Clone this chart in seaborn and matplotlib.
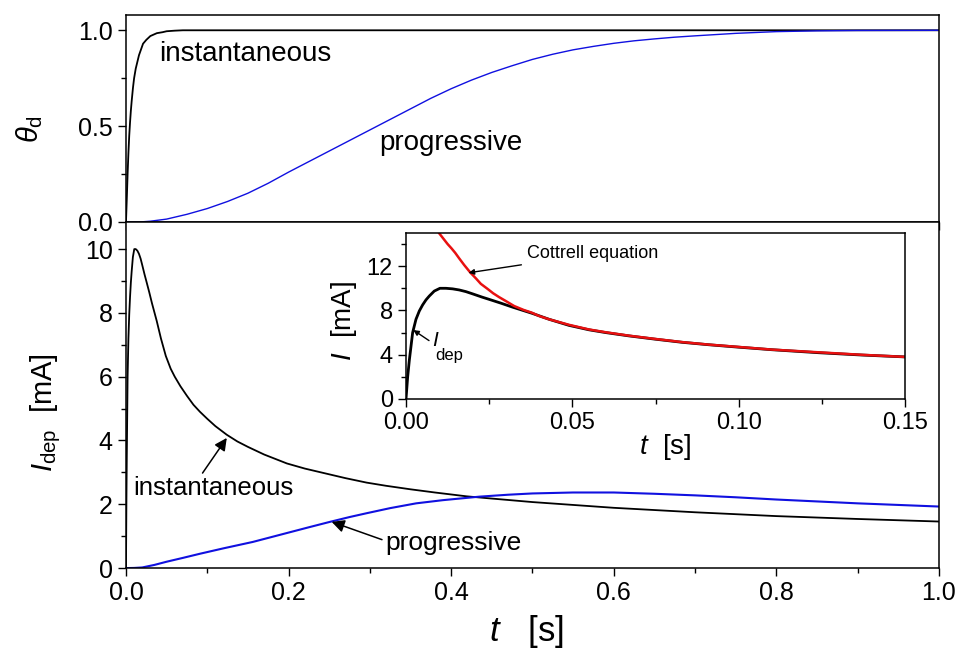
import matplotlib
matplotlib.use("Agg")
import matplotlib.pyplot as plt
import seaborn as sns
from matplotlib.ticker import MultipleLocator, FormatStrFormatter

# Coverage theta_d vs time
t_theta_inst = [0, 0.001, 0.002, 0.003, 0.004, 0.005, 0.006, 0.007, 0.0086, 0.01, 0.012,
                0.016, 0.021, 0.025, 0.03, 0.038, 0.045, 0.05, 0.06, 0.07, 1.0]
theta_inst = [0, 0.12, 0.25, 0.36, 0.45, 0.52, 0.58, 0.63, 0.70, 0.75, 0.80,
              0.87, 0.93, 0.95, 0.97, 0.985, 0.99, 0.995, 0.998, 1.0, 1.0]
t_theta_prog = [0, 0.017, 0.03, 0.05, 0.075, 0.1, 0.125, 0.15, 0.175, 0.2, 0.225, 0.25,
                0.275, 0.3, 0.325, 0.35, 0.375, 0.4, 0.425, 0.45, 0.475, 0.5, 0.525,
                0.55, 0.575, 0.6, 0.625, 0.65, 0.675, 0.7, 0.75, 0.8, 0.85, 0.9, 1.0]
theta_prog = [0, 0, 0.004, 0.015, 0.04, 0.07, 0.107, 0.15, 0.202, 0.26, 0.315, 0.37,
              0.425, 0.48, 0.535, 0.59, 0.645, 0.695, 0.74, 0.78, 0.815, 0.848, 0.875,
              0.898, 0.916, 0.932, 0.945, 0.955, 0.964, 0.971, 0.984, 0.993, 0.997, 0.999, 1.0]

# Deposition current I_dep [mA]
t_inst = [0, 0.0005, 0.001, 0.002, 0.003, 0.004, 0.005, 0.006, 0.007, 0.0085, 0.0102,
          0.012, 0.014, 0.016, 0.018, 0.02, 0.0229, 0.025, 0.0286, 0.032, 0.0378, 0.043,
          0.049, 0.055, 0.06, 0.067, 0.075, 0.083, 0.091, 0.1, 0.11, 0.124, 0.137, 0.15,
          0.17, 0.198, 0.22, 0.25, 0.27, 0.296, 0.32, 0.35, 0.38, 0.419, 0.45, 0.5, 0.6,
          0.7, 0.8, 0.9, 1.0]
i_inst = [0, 2.0, 3.5, 6.0, 7.2, 7.95, 8.5, 8.95, 9.3, 9.75, 10.0,
          10.0, 9.95, 9.85, 9.7, 9.5, 9.2, 9.0, 8.65, 8.3, 7.75, 7.2,
          6.65, 6.25, 6.0, 5.7, 5.4, 5.12, 4.9, 4.68, 4.45, 4.18, 3.97, 3.8,
          3.56, 3.28, 3.12, 2.94, 2.82, 2.68, 2.58, 2.47, 2.37, 2.25, 2.18, 2.07, 1.89,
          1.75, 1.63, 1.54, 1.46]
t_prog = [0, 0.01, 0.02, 0.035, 0.05, 0.07, 0.091, 0.12, 0.156, 0.198, 0.225, 0.251,
          0.275, 0.296, 0.325, 0.357, 0.39, 0.435, 0.47, 0.5, 0.55, 0.6, 0.65, 0.7,
          0.75, 0.8, 0.85, 0.9, 0.95, 1.0]
i_prog = [0, 0.005, 0.02, 0.1, 0.2, 0.32, 0.45, 0.62, 0.82, 1.1, 1.28, 1.45,
          1.6, 1.72, 1.88, 2.03, 2.13, 2.24, 2.3, 2.34, 2.37, 2.37, 2.33, 2.28,
          2.22, 2.15, 2.09, 2.03, 1.98, 1.93]

# Cottrell equation (inset)
t_cot = [0.009, 0.0099, 0.0112, 0.0125, 0.0137, 0.0148, 0.016, 0.0175, 0.0194, 0.021,
         0.0225, 0.0245, 0.0262, 0.028, 0.03, 0.0325, 0.0354, 0.0378, 0.04, 0.043, 0.049,
         0.055, 0.06, 0.067, 0.075, 0.083, 0.091, 0.1, 0.11, 0.125, 0.137, 0.15]
i_cot = [15.6, 15.0, 14.5, 14.0, 13.6, 13.2, 12.7, 12.1, 11.4, 10.9,
         10.4, 9.95, 9.55, 9.2, 8.85, 8.4, 8.04, 7.8, 7.5, 7.2, 6.7,
         6.28, 6.03, 5.72, 5.42, 5.14, 4.91, 4.7, 4.46, 4.2, 3.99, 3.8]

sns.set_theme(style="ticks")
plt.rcParams['font.family'] = ['Liberation Sans', 'DejaVu Sans']
plt.rcParams['mathtext.fontset'] = 'custom'
plt.rcParams['mathtext.rm'] = 'Liberation Sans'
plt.rcParams['mathtext.it'] = 'Liberation Sans:italic'
plt.rcParams['mathtext.bf'] = 'Liberation Sans:bold'
plt.rcParams['text.color'] = 'black'
plt.rcParams['axes.labelcolor'] = 'black'
plt.rcParams['xtick.color'] = 'black'
plt.rcParams['ytick.color'] = 'black'

fig = plt.figure(figsize=(9.58, 6.5), dpi=100)
ax1 = fig.add_axes([0.1315, 0.6585, 0.8485, 0.3185])
ax2 = fig.add_axes([0.1315, 0.126, 0.8485, 0.5325], sharex=ax1)
ax3 = fig.add_axes([0.4238, 0.3862, 0.5209, 0.2554])

for ax in (ax1, ax2, ax3):
    for s in ax.spines.values():
        s.set_color('black')
        s.set_linewidth(1.1)
    ax.tick_params(which='both', direction='out', color='black', width=1.0)
    ax.tick_params(which='major', length=6)
    ax.tick_params(which='minor', length=3.5)

# top panel
sns.lineplot(x=t_theta_inst, y=theta_inst, ax=ax1, color='black', linewidth=1.3)
sns.lineplot(x=t_theta_prog, y=theta_prog, ax=ax1, color='#1010e0', linewidth=1.0)
ax1.set_xlim(0, 1.0)
ax1.set_ylim(0, 1.08)
ax1.yaxis.set_major_locator(MultipleLocator(0.5))
ax1.yaxis.set_minor_locator(MultipleLocator(0.25))
ax1.xaxis.set_major_locator(MultipleLocator(0.2))
ax1.xaxis.set_minor_locator(MultipleLocator(0.1))
ax1.tick_params(labelbottom=False, labelsize=18)
ax1.set_ylabel(r'$\theta_{\rm d}$', fontsize=21)
ax1.yaxis.set_label_coords(-0.1, 0.45)
ax1.text(0.041, 0.875, 'instantaneous', fontsize=20, va='center', ha='left')
ax1.text(0.312, 0.41, 'progressive', fontsize=20, va='center', ha='left')

# bottom panel
sns.lineplot(x=t_inst, y=i_inst, ax=ax2, color='black', linewidth=1.3)
sns.lineplot(x=t_prog, y=i_prog, ax=ax2, color='#1010e0', linewidth=1.5)
ax2.set_ylim(0, 10.85)
ax2.yaxis.set_major_locator(MultipleLocator(2))
ax2.yaxis.set_minor_locator(MultipleLocator(1))
ax2.tick_params(labelsize=18)
ax2.xaxis.set_major_formatter(FormatStrFormatter('%.1f'))
ax2.set_ylabel(r'$I_{\rm dep}$  [mA]', fontsize=21)
ax2.yaxis.set_label_coords(-0.078, 0.45)
ax2.set_xlabel(r'$t$   [s]', fontsize=25, labelpad=0)
ax2.xaxis.set_label_coords(0.493, -0.13)
ax2.annotate('instantaneous', xy=(0.124, 4.08), xytext=(0.0086, 2.5), fontsize=18.5,
             va='center', ha='left',
             arrowprops=dict(arrowstyle='-|>', color='black', lw=1.1,
                             shrinkA=0, shrinkB=0, relpos=(0.42, 1.0)))
ax2.annotate('progressive', xy=(0.253, 1.45), xytext=(0.319, 0.78), fontsize=19,
             va='center', ha='left',
             arrowprops=dict(arrowstyle='-|>', color='black', lw=1.1,
                             shrinkA=0, shrinkB=0, relpos=(0.0, 0.6)))

# inset
sns.lineplot(x=t_inst, y=i_inst, ax=ax3, color='black', linewidth=2.0)
sns.lineplot(x=t_cot, y=i_cot, ax=ax3, color='#e81010', linewidth=1.8)
ax3.set_xlim(0, 0.15)
ax3.set_ylim(0, 15)
ax3.xaxis.set_major_locator(MultipleLocator(0.05))
ax3.xaxis.set_minor_locator(MultipleLocator(0.025))
ax3.yaxis.set_major_locator(MultipleLocator(4))
ax3.yaxis.set_minor_locator(MultipleLocator(2))
ax3.xaxis.set_major_formatter(FormatStrFormatter('%.2f'))
ax3.tick_params(labelsize=17)
ax3.set_ylabel(r'$I$  [mA]', fontsize=20)
ax3.yaxis.set_label_coords(-0.095, 0.47)
ax3.set_xlabel(r'$t$  [s]', fontsize=20, labelpad=2)
ax3.xaxis.set_label_coords(0.52, -0.2)
ax3.annotate('Cottrell equation', xy=(0.0188, 11.4), xytext=(0.0365, 13.1), fontsize=13,
             va='center', ha='left',
             arrowprops=dict(arrowstyle='-|>', color='black', lw=1.0,
                             shrinkA=2, shrinkB=0, mutation_scale=8))
ax3.annotate('I', xy=(0.0022, 6.23), xytext=(0.0079, 4.75), fontsize=15,
             style='italic', va='baseline', ha='left',
             arrowprops=dict(arrowstyle='-|>', color='black', lw=1.0,
                             shrinkA=0, shrinkB=0, mutation_scale=8, relpos=(0.0, 0.4)))
ax3.text(0.0089, 3.55, 'dep', fontsize=12, va='baseline', ha='left')

fig.savefig('out.png', dpi=100)
